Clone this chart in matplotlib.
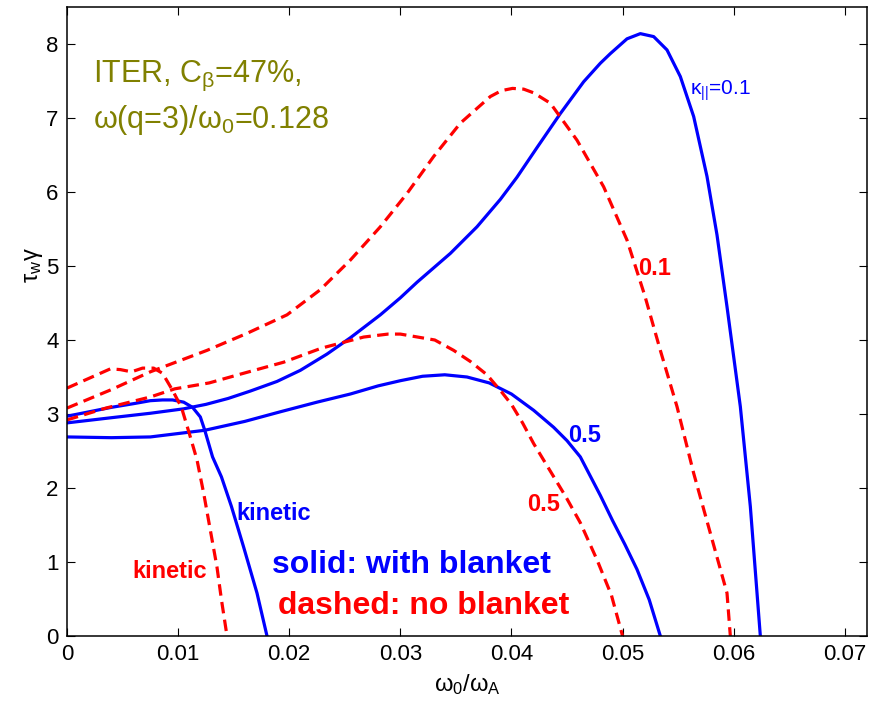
"""Growth rate vs rotation for the ITER case, with and without blanket."""

import matplotlib
matplotlib.use("Agg")
import matplotlib.pyplot as plt

plt.rcParams["font.family"] = ["Liberation Sans", "DejaVu Sans"]
plt.rcParams["mathtext.fontset"] = "custom"
plt.rcParams["mathtext.rm"] = "Liberation Sans"
plt.rcParams["mathtext.it"] = "Liberation Sans"
plt.rcParams["mathtext.bf"] = "Liberation Sans:bold"
plt.rcParams["mathtext.default"] = "regular"

BLUE = "#0000ff"
RED = "#ff0000"
OLIVE = "#808000"

# solid curves: with blanket
blue_kin_x = [0, 0.002, 0.004, 0.006, 0.0075, 0.0086, 0.0095, 0.0105, 0.0113, 0.012,
              0.0124, 0.0131, 0.0139, 0.0148, 0.0159, 0.0171, 0.018]
blue_kin_y = [2.97, 3.03, 3.09, 3.14, 3.18, 3.19, 3.19, 3.16, 3.09, 2.96,
              2.78, 2.42, 2.15, 1.75, 1.2, 0.58, 0.0]

blue_01_x = [0, 0.004, 0.0075, 0.0105, 0.0125, 0.0145, 0.0165, 0.0189, 0.021, 0.0234,
             0.0255, 0.0282, 0.030, 0.0315, 0.0345, 0.0369, 0.039, 0.0405, 0.0423, 0.0444,
             0.0465, 0.048, 0.0489, 0.0504, 0.0516, 0.0528, 0.054, 0.0552, 0.0564, 0.0576,
             0.0585, 0.0594, 0.0606, 0.0615, 0.0624]
blue_01_y = [2.88, 2.95, 3.01, 3.07, 3.13, 3.21, 3.31, 3.44, 3.59, 3.81,
             4.03, 4.34, 4.57, 4.78, 5.17, 5.53, 5.9, 6.2, 6.6, 7.06,
             7.49, 7.74, 7.87, 8.07, 8.14, 8.1, 7.92, 7.56, 7.02, 6.21,
             5.42, 4.45, 3.1, 1.75, 0.0]

blue_05_x = [0, 0.004, 0.0075, 0.0124, 0.016, 0.0192, 0.0225, 0.0255, 0.028, 0.030,
             0.032, 0.034, 0.036, 0.038, 0.040, 0.042, 0.0438, 0.045, 0.0462, 0.048,
             0.0491, 0.0502, 0.0513, 0.0524, 0.0534]
blue_05_y = [2.69, 2.68, 2.69, 2.78, 2.9, 3.03, 3.16, 3.27, 3.38, 3.45,
             3.51, 3.53, 3.5, 3.42, 3.27, 3.05, 2.82, 2.64, 2.42, 1.9,
             1.56, 1.24, 0.9, 0.49, 0.0]

# dashed curves: no blanket
red_kin_x = [0, 0.0015, 0.003, 0.0039, 0.0048, 0.0058, 0.0068, 0.0078, 0.0086, 0.0095,
             0.0103, 0.0111, 0.0117, 0.0123, 0.0129, 0.0135, 0.0139, 0.0144]
red_kin_y = [3.35, 3.45, 3.55, 3.61, 3.6, 3.57, 3.62, 3.62, 3.55, 3.32,
             3.09, 2.69, 2.38, 1.93, 1.43, 0.93, 0.49, 0.0]

red_01_x = [0, 0.004, 0.0075, 0.0126, 0.0162, 0.0198, 0.0228, 0.0255, 0.0282, 0.0306,
            0.033, 0.0354, 0.0381, 0.0391, 0.0401, 0.0411, 0.042, 0.0435, 0.0459, 0.0483,
            0.0504, 0.052, 0.0534, 0.0549, 0.0564, 0.0579, 0.0594, 0.0597]
red_01_y = [3.08, 3.33, 3.57, 3.86, 4.09, 4.34, 4.68, 5.08, 5.53, 5.98,
            6.48, 6.93, 7.29, 7.37, 7.4, 7.39, 7.34, 7.2, 6.7, 6.07,
            5.35, 4.6, 3.86, 3.1, 2.2, 1.39, 0.58, 0.0]

red_05_x = [0, 0.0035, 0.0075, 0.0097, 0.0128, 0.0154, 0.0195, 0.0229, 0.0267, 0.0289,
            0.030, 0.0331, 0.0348, 0.0363, 0.0378, 0.0391, 0.040, 0.041, 0.042, 0.0449,
            0.0462, 0.0477, 0.049, 0.050]
red_05_y = [2.92, 3.08, 3.23, 3.34, 3.42, 3.53, 3.70, 3.89, 4.04, 4.08,
            4.08, 4.0, 3.86, 3.71, 3.53, 3.3, 3.13, 2.88, 2.6, 1.88,
            1.53, 1.03, 0.55, 0.0]

x_ticks = [0, 0.01, 0.02, 0.03, 0.04, 0.05, 0.06, 0.07]
x_tick_labels = ["0", "0.01", "0.02", "0.03", "0.04", "0.05", "0.06", "0.07"]
y_ticks = [0, 1, 2, 3, 4, 5, 6, 7, 8]

fig = plt.figure(figsize=(8.79, 7.03), dpi=100)
ax = fig.add_axes([67 / 879, 1 - 636 / 703, 800 / 879, 629 / 703])

lw = 2.3
dash = (3.6, 2.0)
solid = dict(color=BLUE, lw=lw, solid_joinstyle="round")
dashed = dict(color=RED, lw=lw, ls=(0, dash), dash_joinstyle="round")
ax.plot(blue_01_x, blue_01_y, **solid)
ax.plot(blue_05_x, blue_05_y, **solid)
ax.plot(blue_kin_x, blue_kin_y, **solid)
ax.plot(red_01_x, red_01_y, **dashed)
ax.plot(red_05_x, red_05_y, **dashed)
ax.plot(red_kin_x, red_kin_y, **dashed)

ax.set_xlim(0, 0.072)
ax.set_ylim(0, 8.5)
ax.set_xticks(x_ticks)
ax.set_xticklabels(x_tick_labels)
ax.set_yticks(y_ticks)
ax.tick_params(direction="in", top=True, right=True, length=6, width=0.8,
               labelsize=16, pad=6)
for s in ax.spines.values():
    s.set_linewidth(1.1)

ax.set_xlabel(r"ω$_0$/ω$_A$", fontsize=17, labelpad=5)
ax.set_ylabel(r"τ$_w$γ", fontsize=17)
ax.yaxis.set_label_coords(-0.028, 0.59)

# annotations
ax.text(0.0023, 7.49, r"ITER, C$_β$=47%,", color=OLIVE, fontsize=22)
ax.text(0.0023, 6.86, r"ω(q=3)/ω$_0$=0.128", color=OLIVE, fontsize=22)
ax.text(0.0561, 7.31, r"κ$_{||}$=0.1", color=BLUE, fontsize=15)
ax.text(0.0514, 4.88, "0.1", color=RED, fontsize=17, fontweight="bold")
ax.text(0.0451, 2.62, "0.5", color=BLUE, fontsize=17, fontweight="bold")
ax.text(0.0414, 1.69, "0.5", color=RED, fontsize=17, fontweight="bold")
ax.text(0.0152, 1.57, "kinetic", color=BLUE, fontsize=17, fontweight="bold")
ax.text(0.00585, 0.78, "kinetic", color=RED, fontsize=17, fontweight="bold")
ax.text(0.01845, 0.85, "solid: with blanket", color=BLUE, fontsize=23,
        fontweight="bold")
ax.text(0.019, 0.30, "dashed: no blanket", color=RED, fontsize=23,
        fontweight="bold")

fig.savefig("out.png", dpi=100)
